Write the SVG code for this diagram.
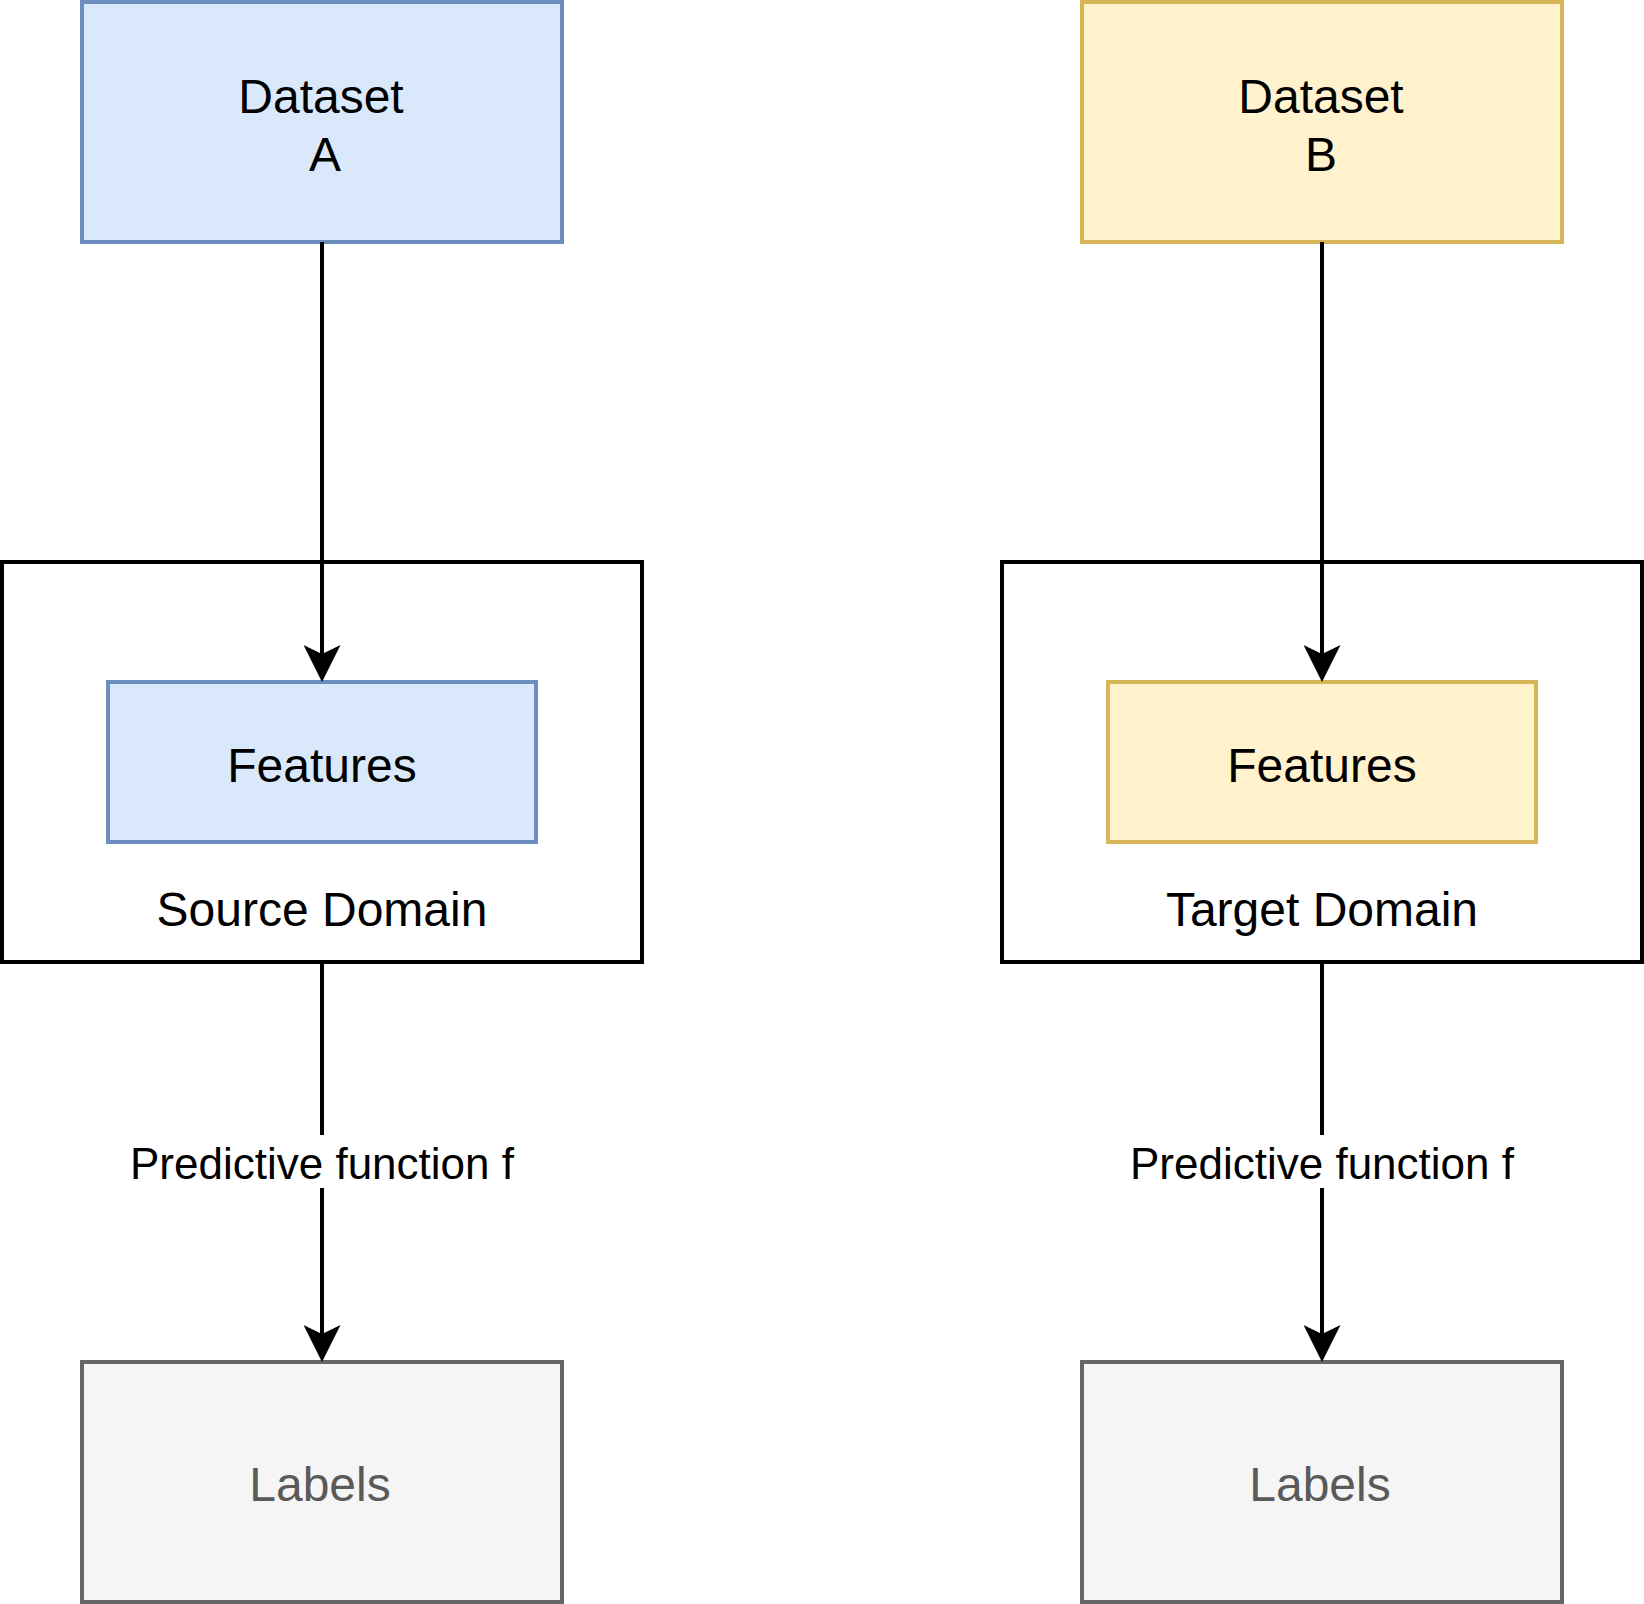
<svg xmlns="http://www.w3.org/2000/svg" width="1644" height="1604" viewBox="0 0 1644 1604">
<style>
  .t { font-family: "Liberation Sans", Arial, Helvetica, sans-serif; font-size: 48px; text-anchor: middle; fill: #000000; }
  .el { font-family: "Liberation Sans", Arial, Helvetica, sans-serif; font-size: 44px; text-anchor: middle; fill: #000000; }
  .blue { fill: #dae8fc; stroke: #6c8ebf; stroke-width: 4; }
  .yellow { fill: #fff2cc; stroke: #d6b656; stroke-width: 4; }
  .gray { fill: #f5f5f5; stroke: #666666; stroke-width: 4; }
  .gtext { fill: #5a5a5a; }
  .domain { fill: #ffffff; stroke: #000000; stroke-width: 4; }
  .edge { fill: none; stroke: #000000; stroke-width: 4; }
  .lblbg { fill: #ffffff; }
</style>
<defs>
  <marker id="arrow" viewBox="0 0 37 37" refX="9" refY="18.5" markerWidth="37" markerHeight="37" markerUnits="userSpaceOnUse" orient="auto">
    <path d="M0,0 L37,18.5 L0,37 L9,18.5 Z" fill="#000000"/>
  </marker>
</defs>
<rect x="0" y="0" width="1644" height="1604" fill="#ffffff"/>

<g id="source-domain">
  <rect class="domain" x="2" y="562" width="640" height="400"/>
  <text class="t" x="322" y="926">Source Domain</text>
</g>
<g id="target-domain">
  <rect class="domain" x="1002" y="562" width="640" height="400"/>
  <text class="t" x="1322" y="926">Target Domain</text>
</g>

<g id="dataset-a">
  <rect class="blue" x="82" y="2" width="480" height="240"/>
  <text class="t" x="321" y="113">Dataset</text>
  <text class="t" x="325" y="171">A</text>
</g>
<g id="dataset-b">
  <rect class="yellow" x="1082" y="2" width="480" height="240"/>
  <text class="t" x="1321" y="113">Dataset</text>
  <text class="t" x="1321" y="171">B</text>
</g>

<g id="features-a">
  <rect class="blue" x="108" y="682" width="428" height="160"/>
  <text class="t" x="322" y="782">Features</text>
</g>
<g id="features-b">
  <rect class="yellow" x="1108" y="682" width="428" height="160"/>
  <text class="t" x="1322" y="782">Features</text>
</g>

<g id="labels-a">
  <rect class="gray" x="82" y="1362" width="480" height="240"/>
  <text class="t gtext" x="320" y="1501">Labels</text>
</g>
<g id="labels-b">
  <rect class="gray" x="1082" y="1362" width="480" height="240"/>
  <text class="t gtext" x="1320" y="1501">Labels</text>
</g>

<g id="connectors">
  <line class="edge" x1="322" y1="242" x2="322" y2="654" marker-end="url(#arrow)"/>
  <line class="edge" x1="1322" y1="242" x2="1322" y2="654" marker-end="url(#arrow)"/>
  <line class="edge" x1="322" y1="962" x2="322" y2="1334" marker-end="url(#arrow)"/>
  <line class="edge" x1="1322" y1="962" x2="1322" y2="1334" marker-end="url(#arrow)"/>
  <rect class="lblbg" x="130" y="1135" width="384" height="53"/>
  <text class="el" x="322" y="1179">Predictive function f</text>
  <rect class="lblbg" x="1130" y="1135" width="384" height="53"/>
  <text class="el" x="1322" y="1179">Predictive function f</text>
</g>
</svg>
